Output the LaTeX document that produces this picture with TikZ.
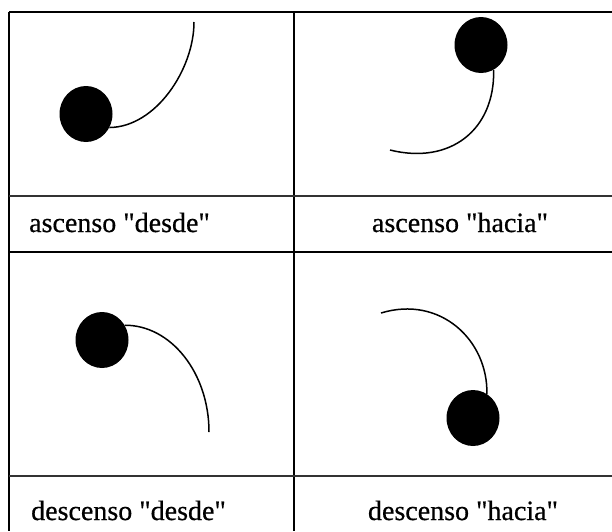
\documentclass[tikz,border=0pt]{standalone}
\usepackage{fontspec}
\setmainfont{Liberation Serif}[Ligatures=TeXOff]
\newfontfamily\lblfont{Liberation Serif}[Ligatures=TeXOff,FakeBold=0.6]
\usetikzlibrary{shapes.geometric}
\begin{document}
\begin{tikzpicture}[x=1pt,y=-1pt,
  frameline/.style={line width=2.2pt, black},
  thickrule/.style={line width=2.8pt, black},
  thinrule/.style={line width=1.4pt, black!80},
  ball/.style={ellipse, fill=black, draw=none, inner sep=0pt, minimum width=53pt, minimum height=56pt},
  path/.style={line width=1.5pt, black},
  lbl/.style={inner sep=0pt, font=\lblfont\fontsize{28}{30}\selectfont}]
\useasboundingbox (0,0) rectangle (612,531);
\fill[white] (0,0) rectangle (612,531);
% table
\draw[frameline] (9,12) -- (612,12);
\draw[frameline] (9,12) -- (9,531);
\draw[frameline] (294,12) -- (294,531);
\draw[thinrule] (9,196) -- (612,196);
\draw[thickrule] (9,252) -- (612,252);
\draw[thinrule] (9,476) -- (612,476);
% cell 1: ascenso desde
\node[ball] (b1) at (86,114) {};
\coordinate (e1) at (194,22);
\draw[path] (b1.-30) .. controls (156,127) and (194,69) .. (e1);
% cell 2: ascenso hacia
\node[ball] (b2) at (481,45) {};
\coordinate (e2) at (390,150);
\draw[path] (b2.-63) .. controls (495,130) and (450,165) .. (e2);
% cell 3: descenso desde
\node[ball] (b3) at (102,340) {};
\coordinate (e3) at (209,432);
\draw[path] (b3.33) .. controls (171,325) and (209,373) .. (e3);
% cell 4: descenso hacia
\node[ball] (b4) at (473,418) {};
\coordinate (e4) at (381,313);
\draw[path] (e4) .. controls (440,295) and (488,340) .. (b4.60);
% labels
\node[lbl, anchor=base west] (l1) at (29,232) {ascenso "desde"};
\node[lbl, anchor=base] (l2) at (460,232) {ascenso "hacia"};
\node[lbl, anchor=base west] (l3) at (31,520) {descenso "desde"};
\node[lbl, anchor=base] (l4) at (463,520) {descenso "hacia"};
\end{tikzpicture}
\end{document}
